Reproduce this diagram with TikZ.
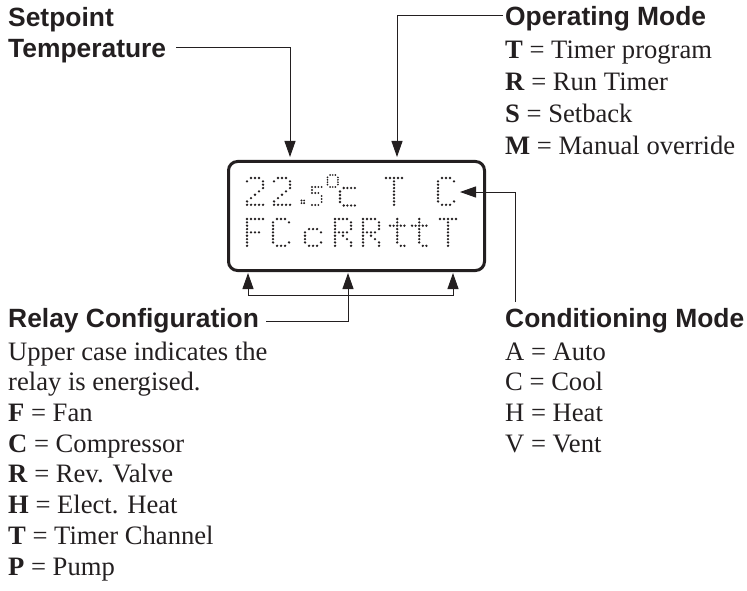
\documentclass[tikz,border=0pt]{standalone}
\usepackage{fontspec}
\setmainfont{Liberation Serif}
\newfontfamily\hdfont{Liberation Sans}
\usetikzlibrary{arrows.meta}
\definecolor{ink}{RGB}{35,31,32}
% x, y (top-left), h-pitch, v-pitch, dot radius, spec (macro) row/{cols}
\newcommand{\dglyph}[6]{%
  \foreach \gr/\gcs in #6{\foreach \gc in \gcs {%
    \fill[ink] ({#1+\gc*#3},{#2+\gr*#4}) circle[radius=#5pt];}}}
\def\GTwo{0/{1,2,3},1/{0,4},2/{4},3/{4},4/{3},5/{2},6/{1},7/{0},8/{0,1,2,3,4}}
\def\GT{0/{0,1,2,3,4},1/{2},2/{2},3/{2},4/{2},5/{2},6/{2},7/{2},8/{2}}
\def\GC{0/{1,2,3},1/{0,4},2/{0},3/{0},4/{0},5/{0},6/{0},7/{0,4},8/{1,2,3}}
\def\GF{0/{0,1,2,3,4},1/{0},2/{0},3/{0},4/{0,1,2,3},5/{0},6/{0},7/{0},8/{0}}
\def\GR{0/{0,1,2,3},1/{0,4},2/{0,4},3/{0,4},4/{0,1,2,3},5/{0,2},6/{0,3},7/{0,4},8/{0,4}}
\def\Gt{0/{2},1/{2},2/{0,1,2,3,4},3/{2},4/{2},5/{2},6/{2},7/{2},8/{3,4}}
\def\Gc{3/{1,2,3},4/{0,4},5/{0},6/{0},7/{0,4},8/{1,2,3}}
\def\Gdot{0/{0,1},1/{0,1}}
\def\Gfive{0/{0,1,2,3},1/{0},2/{0,1,2},3/{3},4/{3},5/{3},6/{0,1,2}}
\def\Gdeg{0/{1,2,3},1/{0,4},2/{0,4},3/{0,4},4/{0,4},5/{1,2,3}}
\def\Gsc{0/{1,2,3,4},1/{0},2/{0},3/{0},4/{0},5/{1,2,3,4}}
\begin{document}
\begin{tikzpicture}[x=1pt,y=-1pt,
  hd/.style={font=\hdfont\bfseries\fontsize{26.4}{30}\selectfont, text=ink, inner sep=0pt, anchor=base west},
  body/.style={font=\fontsize{26.6}{30}\selectfont, text=ink, inner sep=0pt, anchor=base west},
  conn/.style={draw=ink, line width=1pt},
  tip/.tip={Triangle[length=16pt,width=11pt]},
  lcdbox/.style={draw=ink, line width=3pt, rounded corners=9pt, minimum width=256pt, minimum height=109pt, inner sep=0pt}]
\useasboundingbox (0,0) rectangle (747,591);

% LCD
\node[lcdbox] (lcd) at (356.5,216) {};
% row 1
\dglyph{247}{178}{4}{3.35}{1.3}{\GTwo}
\dglyph{274}{178}{4}{3.35}{1.3}{\GTwo}
\dglyph{301.5}{200.5}{2.6}{2.6}{1.05}{\Gdot}
\dglyph{312}{187}{3.2}{3}{1.05}{\Gfive}
\dglyph{327.5}{175}{2.6}{2.4}{0.95}{\Gdeg}
\dglyph{340}{188}{3.7}{3.5}{1.3}{\Gsc}
\dglyph{386}{178}{4}{3.35}{1.3}{\GT}
\dglyph{438}{178}{4}{3.35}{1.3}{\GC}
% row 2
\dglyph{247}{219}{4}{3.35}{1.3}{\GF}
\dglyph{273}{219}{4}{3.35}{1.3}{\GC}
\dglyph{305}{219}{4}{3.35}{1.3}{\Gc}
\dglyph{335}{219}{4}{3.35}{1.3}{\GR}
\dglyph{363}{219}{4}{3.35}{1.3}{\GR}
\dglyph{390}{219}{3.6}{3.35}{1.3}{\Gt}
\dglyph{412}{219}{3.6}{3.35}{1.3}{\Gt}
\dglyph{440}{219}{4}{3.35}{1.3}{\GT}

% Setpoint
\node[hd] (setp) at (8,27) {Setpoint};
\node[hd] (temp) at (8,58) {Temperature};
\coordinate (sp0) at (176,48);
\coordinate (sp1) at (290,48);
\coordinate (spT) at (290,157);
\draw[conn,-tip] (sp0) -- (sp1) -- (spT);

% Operating mode
\node[hd] (opm) at (505,26) {Operating Mode};
\node[body] (op1) at (505,59) {\textbf{T} = Timer program};
\node[body] (op2) at (505,91) {\textbf{R} = Run Timer};
\node[body] (op3) at (505,123) {\textbf{S} = Setback};
\node[body] (op4) at (505,155) {\textbf{M} = Manual override};
\coordinate (om0) at (503,16);
\coordinate (om1) at (397,16);
\coordinate (omT) at (397,157);
\draw[conn,-tip] (om0) -- (om1) -- (omT);

% Conditioning mode
\node[hd] (cm) at (505,327) {Conditioning Mode};
\node[body] (cm1) at (505,360) {A = Auto};
\node[body] (cm2) at (505,390) {C = Cool};
\node[body] (cm3) at (505,421) {H = Heat};
\node[body] (cm4) at (505,452) {V = Vent};
\coordinate (cm0) at (515,302);
\coordinate (cmb) at (515,192);
\coordinate (cmT) at (460,192);
\draw[conn,-tip] (cm0) -- (cmb) -- (cmT);

% Relay configuration
\node[hd] (rc) at (8,327) {Relay Configuration};
\node[body] (rc1) at (8,360) {Upper case indicates the};
\node[body] (rc2) at (8,390) {relay is energised.};
\node[body] (rc3) at (8,421) {\textbf{F} = Fan};
\node[body] (rc4) at (8,452) {\textbf{C} = Compressor};
\node[body] (rc5) at (8,482) {\textbf{R} = Rev. Valve};
\node[body] (rc6) at (8,513) {\textbf{H} = Elect. Heat};
\node[body] (rc7) at (8,544) {\textbf{T} = Timer Channel};
\node[body] (rc8) at (8,575) {\textbf{P} = Pump};
\coordinate (rl0) at (266,321);
\coordinate (rl1) at (348,321);
\coordinate (rlM) at (348,273);
\coordinate (rlL) at (248,273);
\coordinate (rlLb) at (248,295);
\coordinate (rlRb) at (453,295);
\coordinate (rlR) at (453,273);
\draw[conn,-tip] (rl0) -- (rl1) -- (rlM);
\draw[conn,tip-tip] (rlL) -- (rlLb) -- (rlRb) -- (rlR);
\end{tikzpicture}
\end{document}
